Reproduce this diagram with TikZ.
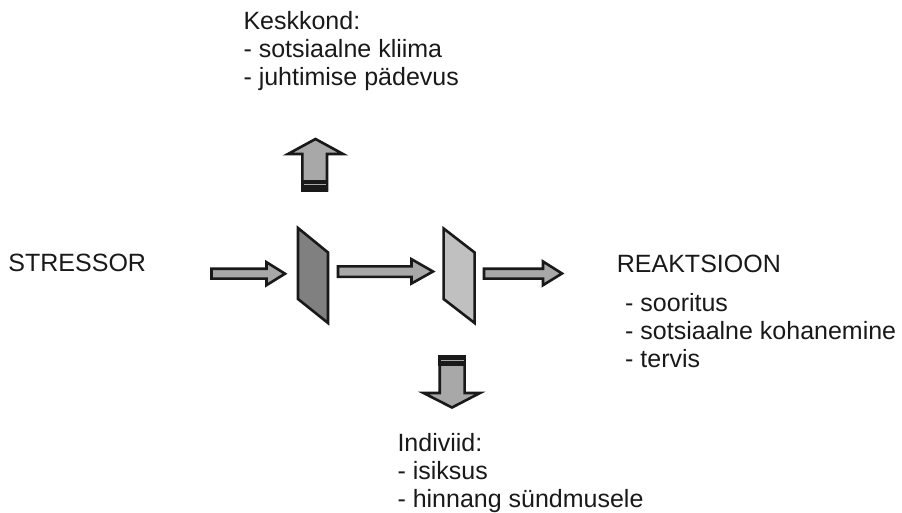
\documentclass[tikz,border=0pt]{standalone}
\usepackage{fontspec}
\setmainfont{Liberation Sans}
\begin{document}
\begin{tikzpicture}[x=1pt,y=-1pt,
  blockarrow/.style={draw=black!90,fill=arrowgray,line width=2.6pt,line join=miter},
  panel/.style={draw=black!90,line width=2.6pt,line join=miter},
  lbl/.style={anchor=base west,inner sep=0pt,font=\fontsize{25}{28}\selectfont,text=black!90}]
\definecolor{arrowgray}{HTML}{A8A8A8}
\definecolor{darkpanel}{HTML}{808080}
\definecolor{lightpanel}{HTML}{C0C0C0}
\useasboundingbox (0,0) rectangle (902,513);

% horizontal flow arrows
\draw[blockarrow] (211.5,268.7) -- (266.5,268.7) -- (266.5,262.2) -- (285,273.7)
  -- (266.5,285.2) -- (266.5,278.6) -- (211.5,278.6) -- cycle;
\draw[blockarrow] (338,266.4) -- (411.5,266.4) -- (411.5,259.2) -- (433,271.5)
  -- (411.5,283.5) -- (411.5,276.9) -- (338,276.9) -- cycle;
\draw[blockarrow] (484,268.7) -- (543,268.7) -- (543,261.5) -- (562,273.5)
  -- (543,285.2) -- (543,278.6) -- (484,278.6) -- cycle;

% filter panels
\draw[panel,fill=darkpanel] (298,228) -- (328,252.5) -- (328,323) -- (298,299) -- cycle;
\draw[panel,fill=lightpanel] (443.6,228.5) -- (474.6,252.5) -- (474.6,323) -- (443.6,299) -- cycle;

% upward arrow towards the environment
\draw[blockarrow] (302.4,190.3) -- (302.4,154) -- (288,154) -- (315.5,139)
  -- (343,154) -- (327,154) -- (327,190.3) -- cycle;
\fill[black!90] (301,180.5) rectangle (328.4,191.7);
\draw[arrowgray,line width=1pt] (303.5,184.3) -- (325.9,184.3);

% downward arrow towards the individual
\draw[blockarrow] (439.7,356.4) -- (439.7,393) -- (423.5,393) -- (452,407.5)
  -- (480,393) -- (464.6,393) -- (464.6,356.4) -- cycle;
\fill[black!90] (438.3,355) rectangle (466,366.2);
\draw[arrowgray,line width=1pt] (440.8,360.7) -- (463.5,360.7);

% labels
\node[lbl] (kesk) at (243.3,29.3) {Keskkond:};
\node[lbl] (kesk1) at (243.3,57.3) {- sotsiaalne kliima};
\node[lbl] (kesk2) at (243.3,85.3) {- juhtimise pädevus};

\node[lbl] (stressor) at (8.3,271.7) {STRESSOR};

\node[lbl] (reakt) at (616.7,272.3) {REAKTSIOON};
\node[lbl] (reakt1) at (625,311.7) {- sooritus};
\node[lbl] (reakt2) at (625,339.7) {- sotsiaalne kohanemine};
\node[lbl] (reakt3) at (625,367.7) {- tervis};

\node[lbl] (indiv) at (397.3,451) {Indiviid:};
\node[lbl] (indiv1) at (397.3,479.5) {- isiksus};
\node[lbl] (indiv2) at (397.3,507.5) {- hinnang sündmusele};
\end{tikzpicture}
\end{document}
